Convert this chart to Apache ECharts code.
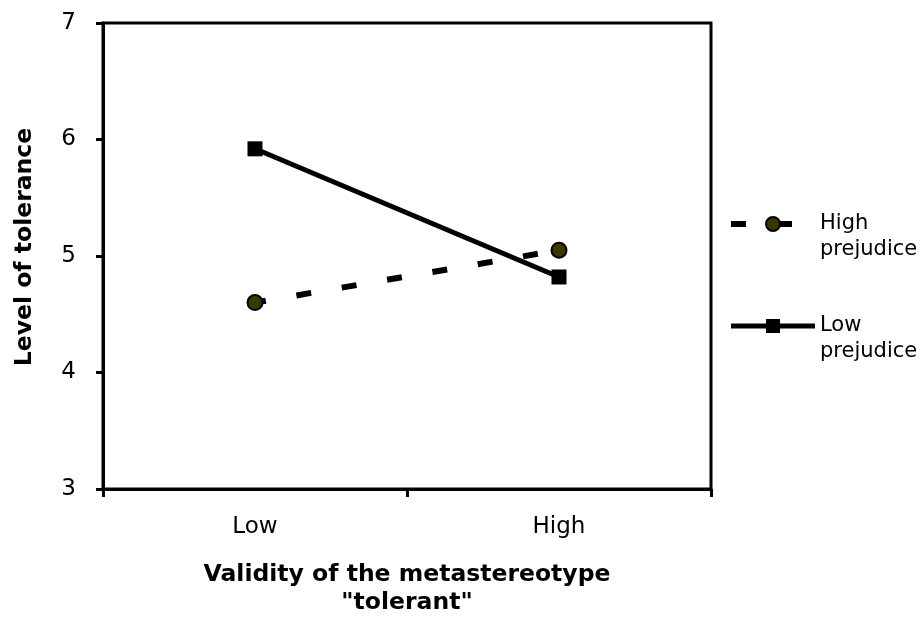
<!DOCTYPE html>
<html>
<head>
<meta charset="utf-8">
<script src="https://cdn.jsdelivr.net/npm/echarts@6/dist/echarts.min.js"></script>
<style>html,body{margin:0;padding:0;background:#fff}#c{width:922px;height:617px}</style>
</head>
<body>
<div id="c"></div>
<script>
const categories = ['Low', 'High'];
const highPrejudice = [4.60, 5.05];
const lowPrejudice = [5.92, 4.82];
const yTicks = [3, 4, 5, 6, 7];
const seriesNames = ['High prejudice', 'Low prejudice'];
const legendLabels = {'High prejudice': ' \nHigh\nprejudice', 'Low prejudice': ' \nLow\nprejudice'};

const chart = echarts.init(document.getElementById('c'), null, {renderer: 'canvas'});
const F = 'DejaVu Sans';
chart.setOption({
  animation: false,
  backgroundColor: '#fff',
  grid: {left: 103, top: 23, right: 211, bottom: 128, show: true, borderColor: '#000', borderWidth: 3, containLabel: false, outerBoundsMode: 'none'},
  legend: {
    orient: 'vertical', left: 728, top: 181, padding: 0, itemGap: 16,
    itemWidth: 84, itemHeight: 17.5, selectedMode: false,
    data: [
      {name: seriesNames[0], lineStyle: {width: 6, dashOffset: 0}},
      {name: seriesNames[1], lineStyle: {width: 5}}
    ],
    formatter: n => legendLabels[n],
    textStyle: {fontFamily: F, fontSize: 21, lineHeight: 26, color: '#000', padding: [8, 0, 0, 0]}
  },
  xAxis: {
    type: 'category', data: categories,
    axisLine: {lineStyle: {color: '#000', width: 3}},
    axisTick: {show: true, length: 8, lineStyle: {color: '#000', width: 3}},
    axisLabel: {fontFamily: F, fontSize: 23, color: '#000', margin: 27},
    name: 'Validity of the metastereotype\n"tolerant"', nameLocation: 'middle', nameGap: 72,
    nameTextStyle: {fontFamily: F, fontSize: 23.5, fontWeight: 'bold', color: '#000', lineHeight: 28}
  },
  yAxis: {
    type: 'value', min: yTicks[0], max: yTicks[yTicks.length - 1], interval: 1,
    splitLine: {show: false},
    axisLine: {show: true, lineStyle: {color: '#000', width: 3}},
    axisTick: {show: true, length: 7, lineStyle: {color: '#000', width: 3}},
    axisLabel: {fontFamily: F, fontSize: 23, color: '#000', margin: 27},
    name: 'Level of tolerance', nameLocation: 'middle', nameGap: 66,
    nameTextStyle: {fontFamily: F, fontSize: 23.5, fontWeight: 'bold', color: '#000', padding: [0, 0, 0, 18]}
  },
  series: [
    {
      name: seriesNames[0], type: 'line', data: highPrejudice,
      symbol: 'circle', symbolSize: 15,
      lineStyle: {color: '#000', width: 6, type: [15, 31], dashOffset: 4},
      itemStyle: {color: '#3a3800', borderColor: '#000', borderWidth: 2}
    },
    {
      name: seriesNames[1], type: 'line', data: lowPrejudice,
      symbol: 'rect', symbolSize: 15,
      lineStyle: {color: '#000', width: 5, type: 'solid'},
      itemStyle: {color: '#000', borderColor: '#000', borderWidth: 0}
    }
  ]
});
</script>
</body>
</html>
